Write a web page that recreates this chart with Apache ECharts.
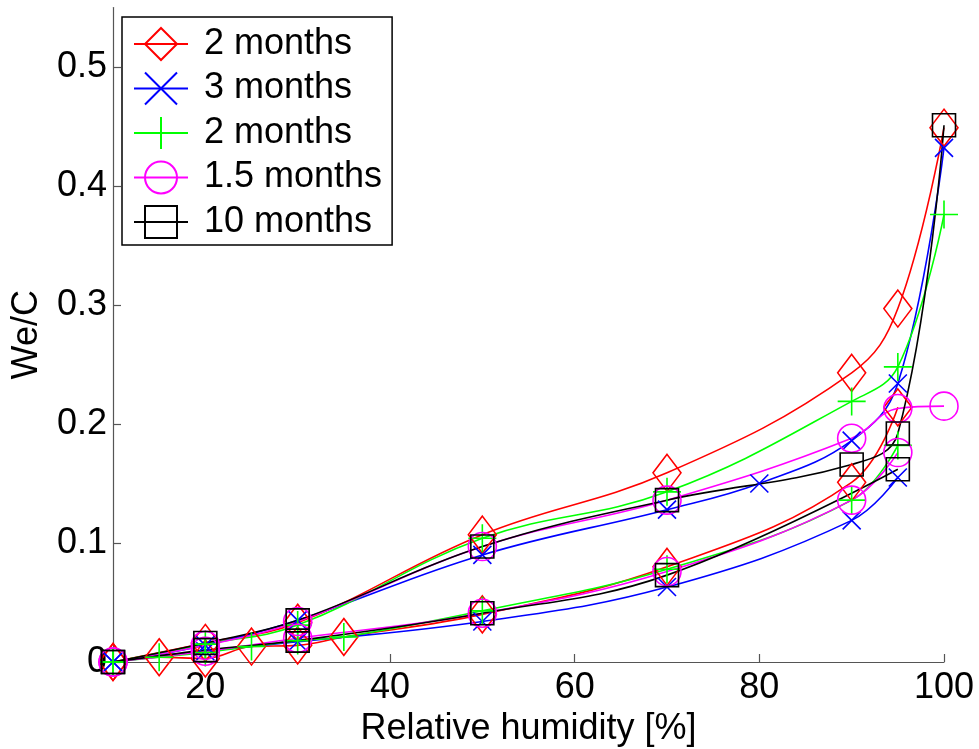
<!DOCTYPE html>
<html>
<head>
<meta charset="utf-8">
<script src="https://cdn.jsdelivr.net/npm/echarts@6/dist/echarts.min.js"></script>
<style>
html,body{margin:0;padding:0;background:#fff;}
#chart{width:979px;height:749px;}
</style>
</head>
<body>
<div id="chart"></div>
<script>
// ---- data ----
const legendLabels = ['2 months', '3 months', '2 months', '1.5 months', '10 months'];
const xTicks = [20, 40, 60, 80, 100];
const yTicks = [0, 0.1, 0.2, 0.3, 0.4, 0.5];

// upper (desorption) branches
const xUpper = [10, 20, 30, 50, 70, 90, 95, 100];
const xUpperBlue = [10, 20, 30, 50, 70, 80, 90, 95, 100];
const redUpper = [0, 0.016, 0.033, 0.107, 0.159, 0.243, 0.297, 0.449];
const blueUpper = [0, 0.014, 0.035, 0.090, 0.128, 0.150, 0.186, 0.234, 0.432];
const greenUpper = [0, 0.015, 0.031, 0.104, 0.143, 0.219, 0.248, 0.376];
const magentaUpper = [0, 0.014, 0.034, 0.097, 0.136, 0.188, 0.213, 0.215];
const blackUpper = [0, 0.016, 0.035, 0.097, 0.136, 0.166, 0.192, 0.451];

// lower (adsorption) branches
const xLowerFine = [10, 15, 20, 25, 30, 35, 50, 70, 90, 95];
const xLower = [10, 20, 30, 50, 70, 90, 95];
const xLowerBlack = [10, 20, 30, 50, 70, 95];
const redLower = [0, 0.004, 0.003, 0.013, 0.014, 0.021, 0.040, 0.080, 0.151, 0.214];
const greenLower = [0, 0.004, 0.008, 0.013, 0.018, 0.021, 0.043, 0.078, 0.136, 0.182];
const blueLower = [0, 0.009, 0.017, 0.034, 0.063, 0.119, 0.155];
const magentaLower = [0, 0.009, 0.020, 0.041, 0.076, 0.136, 0.176];
const blackLower = [0, 0.010, 0.018, 0.041, 0.073, 0.162];

// ---- styles ----
const FONT = 'Liberation Sans, Arial, Helvetica, sans-serif';
const groups = [
  {key: 'g0', color: '#ff0000', symbol: 'diamond', size: [28, 37],
   branches: [[xUpper, redUpper], [xLowerFine, redLower]]},
  {key: 'g1', color: '#0000ff', symbol: 'path://M0,0L10,10M10,0L0,10', size: 18,
   branches: [[xUpperBlue, blueUpper], [xLower, blueLower]]},
  {key: 'g2', color: '#00ff00', symbol: 'path://M5,0L5,10M0,5L10,5', size: 28,
   branches: [[xUpper, greenUpper], [xLowerFine, greenLower]]},
  {key: 'g3', color: '#ff00ff', symbol: 'circle', size: 28,
   branches: [[xUpper, magentaUpper], [xLower, magentaLower]]},
  {key: 'g4', color: '#000000', symbol: 'rect', size: 23,
   branches: [[xUpper, blackUpper], [xLowerBlack, blackLower]]}
];

const series = [];
groups.forEach(function (g) {
  g.branches.forEach(function (b) {
    series.push({
      name: g.key,
      type: 'line',
      data: b[0].map(function (x, i) { return [x, b[1][i]]; }),
      smooth: 0.4,
      symbol: g.symbol,
      symbolSize: g.size,
      showSymbol: true,
      showAllSymbol: true,
      clip: false,
      lineStyle: {color: g.color, width: 1.6},
      itemStyle: {color: 'rgba(0,0,0,0)', borderColor: g.color, borderWidth: 1.6},
      emphasis: {disabled: true}
    });
  });
});

const labelMap = {};
groups.forEach(function (g, i) { labelMap[g.key] = legendLabels[i]; });

const chart = echarts.init(document.getElementById('chart'), null, {renderer: 'canvas'});
chart.setOption({
  animation: false,
  backgroundColor: '#ffffff',
  textStyle: {fontFamily: FONT},
  grid: {left: 113, right: 35, top: 7.5, bottom: 87, containLabel: false, outerBoundsMode: 'none'},
  legend: {
    orient: 'vertical',
    left: 122,
    top: 17,
    data: groups.map(function (g) { return g.key; }),
    formatter: function (n) { return labelMap[n]; },
    itemWidth: 54,
    itemHeight: 40,
    itemGap: 4.5,
    padding: [7, 10, 3, 11],
    borderColor: '#000',
    borderWidth: 1.5,
    backgroundColor: '#fff',
    selectedMode: false,
    textStyle: {fontFamily: FONT, fontSize: 36, color: '#000', lineHeight: 40, padding: [0, 0, 0, 11]}
  },
  xAxis: {
    type: 'value',
    min: 10,
    max: 100,
    name: 'Relative humidity [%]',
    nameLocation: 'middle',
    nameGap: 44,
    nameTextStyle: {fontFamily: FONT, fontSize: 36, color: '#000'},
    axisLine: {show: true, lineStyle: {color: '#555', width: 1.2}},
    axisTick: {show: true, inside: true, length: 8, customValues: xTicks, lineStyle: {color: '#555', width: 1.2}},
    axisLabel: {show: true, customValues: xTicks, margin: 8, fontFamily: FONT, fontSize: 36, color: '#000'},
    splitLine: {show: false}
  },
  yAxis: {
    type: 'value',
    min: 0,
    max: 0.55,
    name: 'We/C',
    nameLocation: 'middle',
    nameGap: 68,
    nameTextStyle: {fontFamily: FONT, fontSize: 36, color: '#000'},
    axisLine: {show: true, lineStyle: {color: '#555', width: 1.2}},
    axisTick: {show: true, inside: true, length: 8, customValues: yTicks, lineStyle: {color: '#555', width: 1.2}},
    axisLabel: {show: true, customValues: yTicks, margin: 6, fontFamily: FONT, fontSize: 36, color: '#000',
      formatter: function (v) { return v === 0 ? '0' : (Math.round(v * 10) / 10).toFixed(1); }},
    splitLine: {show: false}
  },
  series: series
});
</script>
</body>
</html>
